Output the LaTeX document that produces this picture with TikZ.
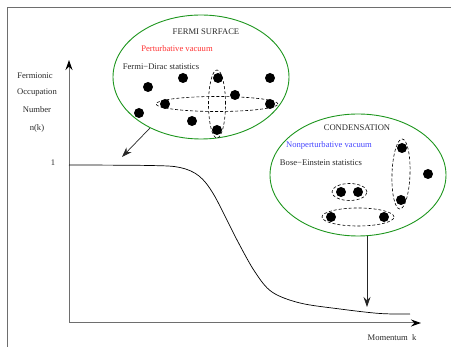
\documentclass[tikz,border=0pt]{standalone}
\usepackage{fontspec}
\setmainfont{Liberation Serif}
\usetikzlibrary{arrows.meta,shapes.geometric}
\definecolor{ellgreen}{RGB}{30,150,30}
\definecolor{txtred}{RGB}{255,50,50}
\definecolor{txtblue}{RGB}{70,70,255}
\definecolor{txtgray}{RGB}{40,40,40}
\definecolor{framegray}{RGB}{110,110,110}
\begin{document}
\begin{tikzpicture}[x=1pt,y=-1pt,
  lbl/.style={inner sep=0pt,text=txtgray,font=\fontsize{8.6}{9}\selectfont},
  bigell/.style={draw=ellgreen,line width=0.9pt,ellipse,inner sep=0pt},
  pairell/.style={draw,dashed,dash pattern=on 3pt off 2pt,line width=0.6pt,ellipse,inner sep=0pt},
  dot/.style={circle,fill=black,inner sep=0pt,minimum size=10pt},
  axis/.style={draw=framegray,line width=1pt,-{Stealth[length=10pt,width=7pt,color=black]}},
  pointer/.style={draw=black!85,line width=0.7pt,-{Stealth[length=10pt,width=7pt]}}
]
\useasboundingbox (0,0) rectangle (451,347);
% frame
\draw[framegray,line width=1.5pt] (7.5,347) -- (7.5,7.5) -- (451,7.5);
% axes
\coordinate (O) at (69,323);
\coordinate (ytip) at (69,60);
\coordinate (xtip) at (421,323);
\draw[axis] (O) -- (ytip);
\draw[axis] (O) -- (xtip);
% labels
\node[lbl] (l1) at (35,76) {Fermionic};
\node[lbl] (l2) at (37,93) {Occupation};
\node[lbl] (l3) at (37,110) {Number};
\node[lbl] (l4) at (37,128) {n(k)};
\node[lbl] (one) at (53,163) {1};
\node[lbl] (mom) at (392,338) {Momentum\ \ k};
% curve
\draw[line width=0.7pt] plot[smooth,tension=0.55] coordinates {(69,165) (150,165.5) (180,167.5) (199,176) (214,195) (237,240) (255,272) (272,292) (300,303) (340,309) (380,313.5) (410,314)};
% Fermi surface
\node[bigell,minimum width=176pt,minimum height=124pt] (fermi) at (201,77) {};
\node[lbl] (fs) at (206,32) {FERMI SURFACE};
\node[lbl,text=txtred] (pv) at (177,49) {Perturbative vacuum};
\node[lbl] (fd) at (161,67) {Fermi−Dirac statistics};
\node[pairell,minimum width=122pt,minimum height=15pt] (ph) at (217,104) {};
\node[pairell,minimum width=17pt,minimum height=68pt] (pvt) at (217,104) {};
\node[dot] (f1) at (148,87) {};
\node[dot] (f2) at (183,78) {};
\node[dot] (f3) at (218,78) {};
\node[dot] (f4) at (270,78) {};
\node[dot] (f5) at (235,95) {};
\node[dot] (f6) at (165,104) {};
\node[dot] (f7) at (270,104) {};
\node[dot] (f8) at (139,113) {};
\node[dot] (f9) at (192,121) {};
\node[dot] (f10) at (217,130) {};
\coordinate (tip1) at (122,157);
\draw[pointer] (fermi.225) -- (tip1);
% Condensation
\node[bigell,minimum width=176pt,minimum height=122pt] (cond) at (358,175) {};
\node[lbl] (cn) at (357,128) {CONDENSATION};
\node[lbl,text=txtblue] (npv) at (329,145) {Nonperturbative vacuum};
\node[lbl] (be) at (321,163) {Bose−Einstein statistics};
\node[pairell,minimum width=18pt,minimum height=70pt,rotate=-2] (cv) at (401,174) {};
\node[pairell,minimum width=35pt,minimum height=17pt] (cs) at (349.5,192) {};
\node[pairell,minimum width=72pt,minimum height=18pt] (cb) at (358,217) {};
\node[dot] (c1) at (402,148) {};
\node[dot] (c2) at (428,174) {};
\node[dot] (c3) at (401,200) {};
\node[dot] (c4) at (341,192) {};
\node[dot] (c5) at (358,192) {};
\node[dot] (c6) at (331,217) {};
\node[dot] (c7) at (384,217) {};
\coordinate (tip2) at (367,307);
\draw[pointer] (tip2 |- cond.south) -- (tip2);
\end{tikzpicture}
\end{document}
